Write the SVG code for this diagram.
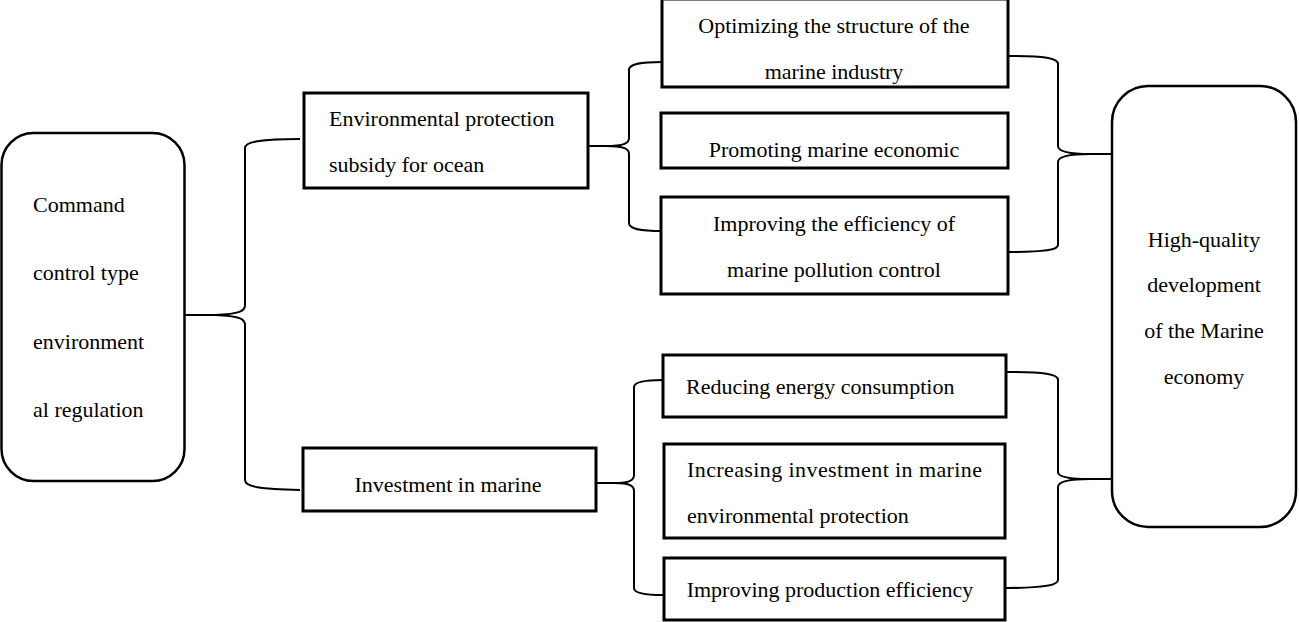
<svg xmlns="http://www.w3.org/2000/svg" width="1299" height="622" viewBox="0 0 1299 622">
<style>
.box{fill:#fff;stroke:#000;stroke-width:3}
.rbox{fill:#fff;stroke:#000;stroke-width:2.5}
.br{fill:none;stroke:#000;stroke-width:2}
text{font-family:"Liberation Serif","Times New Roman",serif;font-size:22px;fill:#000}
.c{text-anchor:middle}
</style>
<rect width="1299" height="622" fill="#fff"/>
<g id="connectors">
<path class="br" d="M185,315 L215,315 C240,314 245,311 245,305 L245,148 C245,142 260,139 300,139"/>
<path class="br" d="M215,315 C240,316 245,319 245,325 L245,480 C245,487 260,489 300,490"/>
<path class="br" d="M588,146 L605,146 C625,146 629,143 629,138 L629,70 C629,64 640,62 662,62"/>
<path class="br" d="M605,146 C625,146 629,149 629,154 L629,223 C629,229 640,231 662,231"/>
<path class="br" d="M1008,56 C1045,56 1058,58 1058,64 L1058,146 C1058,152 1070,154 1090,154 L1111,154"/>
<path class="br" d="M1090,154 C1070,154 1058,156 1058,162 L1058,245 C1058,250 1045,252 1008,252"/>
<path class="br" d="M597,483 L615,483 C630,483 634,480 634,475 L634,387 C634,382 645,380 663,380"/>
<path class="br" d="M615,483 C630,483 634,486 634,491 L634,588 C634,593 645,595 663,595"/>
<path class="br" d="M1005,372 C1045,372 1058,374 1058,380 L1058,472 C1058,477 1070,479 1090,479 L1111,479"/>
<path class="br" d="M1090,479 C1070,479 1058,481 1058,487 L1058,580 C1058,585 1045,588 1005,588"/>
</g>
<g id="n-command">
<rect class="rbox" x="1.5" y="133" width="183" height="348" rx="32"/>
<text x="33" y="212">Command</text>
<text x="33" y="280">control type</text>
<text x="33" y="349">environment</text>
<text x="33" y="417">al regulation</text>
</g>
<g id="n-subsidy">
<rect class="box" x="304" y="93" width="284" height="95"/>
<text x="329" y="126">Environmental protection</text>
<text x="329" y="172">subsidy for ocean</text>
</g>
<g id="n-investment">
<rect class="box" x="303" y="448" width="293" height="63"/>
<text class="c" x="448" y="492">Investment in marine</text>
</g>
<g id="n-optimizing">
<rect class="box" x="662" y="-1" width="346" height="88"/>
<text class="c" x="834" y="33">Optimizing the structure of the</text>
<text class="c" x="834" y="79">marine industry</text>
</g>
<g id="n-promoting">
<rect class="box" x="661" y="113" width="347" height="55"/>
<text class="c" x="834" y="157">Promoting marine economic</text>
</g>
<g id="n-pollution">
<rect class="box" x="661" y="197" width="347" height="97"/>
<text class="c" x="834" y="231">Improving the efficiency of</text>
<text class="c" x="834" y="277">marine pollution control</text>
</g>
<g id="n-energy">
<rect class="box" x="663" y="355" width="343" height="62"/>
<text x="686" y="394">Reducing energy consumption</text>
</g>
<g id="n-protection">
<rect class="box" x="664" y="444" width="341" height="94"/>
<text x="687" y="477" textLength="295" lengthAdjust="spacing">Increasing investment in marine</text>
<text x="687" y="523">environmental protection</text>
</g>
<g id="n-production">
<rect class="box" x="664" y="558" width="341" height="62"/>
<text class="c" x="830" y="597">Improving production efficiency</text>
</g>
<g id="n-highquality">
<rect class="rbox" x="1112" y="86" width="184" height="441" rx="36"/>
<text class="c" x="1204" y="247">High-quality</text>
<text class="c" x="1204" y="292">development</text>
<text class="c" x="1204" y="338">of the Marine</text>
<text class="c" x="1204" y="384">economy</text>
</g>
</svg>
